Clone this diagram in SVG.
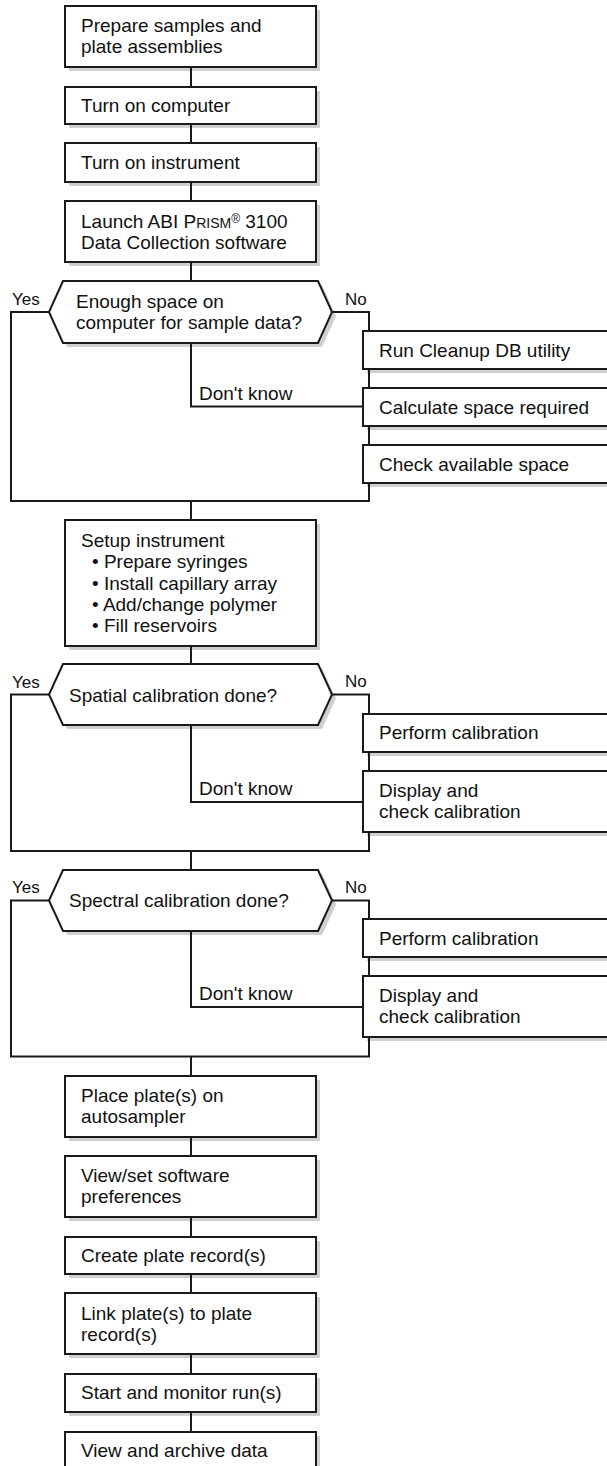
<svg xmlns="http://www.w3.org/2000/svg" width="607" height="1466" viewBox="0 0 607 1466">
<style>
.box{fill:#fff;stroke:#1a1a1a;stroke-width:2}
.sh{fill:#cfcfcf}
.ln{fill:none;stroke:#1a1a1a;stroke-width:2}
text{font-family:"Liberation Sans",Arial,Helvetica,sans-serif;font-size:19px;fill:#111}
.lbl{font-size:17px}
</style>
<rect width="607" height="1466" fill="#fff"/>
<g id="shadows">
<rect class="sh" x="69" y="10" width="251" height="61"/>
<rect class="sh" x="69" y="91" width="251" height="37"/>
<rect class="sh" x="69" y="147" width="251" height="39"/>
<rect class="sh" x="69" y="205" width="251" height="61"/>
<polygon class="sh" points="67,285 322,285 336,316 322,347 67,347 53,316"/>
<rect class="sh" x="367" y="335" width="260" height="38"/>
<rect class="sh" x="367" y="392" width="260" height="38"/>
<rect class="sh" x="367" y="449" width="260" height="38"/>
<rect class="sh" x="69" y="524" width="251" height="126"/>
<polygon class="sh" points="67,668 322,668 336,698.5 322,729 67,729 53,698.5"/>
<rect class="sh" x="367" y="718" width="260" height="38"/>
<rect class="sh" x="367" y="775" width="260" height="61"/>
<polygon class="sh" points="67,874 322,874 336,904.5 322,935 67,935 53,904.5"/>
<rect class="sh" x="367" y="923" width="260" height="38"/>
<rect class="sh" x="367" y="980" width="260" height="61"/>
<rect class="sh" x="69" y="1080" width="251" height="61"/>
<rect class="sh" x="69" y="1160" width="251" height="61"/>
<rect class="sh" x="69" y="1241" width="251" height="37"/>
<rect class="sh" x="69" y="1297" width="251" height="61"/>
<rect class="sh" x="69" y="1378" width="251" height="38"/>
<rect class="sh" x="69" y="1436" width="251" height="40"/>
</g>
<g id="connectors" class="ln">
<path d="M191 67V87M191 124V143M191 182V201M191 262V281"/>
<path d="M49 312H11V501H369V312H332M191 343V406.5H363M191 501V520"/>
<path d="M191 646V664M49 694.5H11V851H369V694.5H332M191 725V802H363M191 851V870"/>
<path d="M49 900.5H11V1056.5H369V900.5H332M191 931V1007H363M191 1056.5V1076"/>
<path d="M191 1137V1156M191 1217V1237M191 1274V1293M191 1354V1374M191 1412V1432"/>
</g>
<g id="labels">
<text class="lbl" x="12" y="305">Yes</text>
<text class="lbl" x="345" y="305">No</text>
<text x="199" y="400">Don't know</text>
<text class="lbl" x="12" y="688">Yes</text>
<text class="lbl" x="345" y="687">No</text>
<text x="199" y="795">Don't know</text>
<text class="lbl" x="12" y="893">Yes</text>
<text class="lbl" x="345" y="893">No</text>
<text x="199" y="1000">Don't know</text>
</g>
<g id="n1"><rect class="box" x="65" y="6" width="251" height="61"/><text x="81" y="32">Prepare samples and</text><text x="81" y="53">plate assemblies</text></g>
<g id="n2"><rect class="box" x="65" y="87" width="251" height="37"/><text x="81" y="112">Turn on computer</text></g>
<g id="n3"><rect class="box" x="65" y="143" width="251" height="39"/><text x="81" y="169">Turn on instrument</text></g>
<g id="n4"><rect class="box" x="65" y="201" width="251" height="61"/><text x="81" y="228">Launch ABI P<tspan font-size="14">RISM</tspan><tspan font-size="12" dy="-5">®</tspan><tspan dy="5"> 3100</tspan></text><text x="81" y="249">Data Collection software</text></g>
<g id="d1"><polygon class="box" points="63,281 318,281 332,312 318,343 63,343 49,312"/><text x="76" y="308">Enough space on</text><text x="76" y="329">computer for sample data?</text></g>
<g id="r1"><rect class="box" x="363" y="331" width="260" height="38"/><text x="379" y="357">Run Cleanup DB utility</text></g>
<g id="r2"><rect class="box" x="363" y="388" width="260" height="38"/><text x="379" y="414">Calculate space required</text></g>
<g id="r3"><rect class="box" x="363" y="445" width="260" height="38"/><text x="379" y="471">Check available space</text></g>
<g id="n5"><rect class="box" x="65" y="520" width="251" height="126"/><text x="81" y="547">Setup instrument</text><text x="92" y="568">• Prepare syringes</text><text x="92" y="590">• Install capillary array</text><text x="92" y="611">• Add/change polymer</text><text x="92" y="632">• Fill reservoirs</text></g>
<g id="d2"><polygon class="box" points="63,664 318,664 332,694.5 318,725 63,725 49,694.5"/><text x="69" y="702">Spatial calibration done?</text></g>
<g id="r4"><rect class="box" x="363" y="714" width="260" height="38"/><text x="379" y="739">Perform calibration</text></g>
<g id="r5"><rect class="box" x="363" y="771" width="260" height="61"/><text x="379" y="797">Display and</text><text x="379" y="818">check calibration</text></g>
<g id="d3"><polygon class="box" points="63,870 318,870 332,900.5 318,931 63,931 49,900.5"/><text x="69" y="907">Spectral calibration done?</text></g>
<g id="r6"><rect class="box" x="363" y="919" width="260" height="38"/><text x="379" y="945">Perform calibration</text></g>
<g id="r7"><rect class="box" x="363" y="976" width="260" height="61"/><text x="379" y="1002">Display and</text><text x="379" y="1023">check calibration</text></g>
<g id="n6"><rect class="box" x="65" y="1076" width="251" height="61"/><text x="81" y="1102">Place plate(s) on</text><text x="81" y="1123">autosampler</text></g>
<g id="n7"><rect class="box" x="65" y="1156" width="251" height="61"/><text x="81" y="1182">View/set software</text><text x="81" y="1203">preferences</text></g>
<g id="n8"><rect class="box" x="65" y="1237" width="251" height="37"/><text x="81" y="1262">Create plate record(s)</text></g>
<g id="n9"><rect class="box" x="65" y="1293" width="251" height="61"/><text x="81" y="1320">Link plate(s) to plate</text><text x="81" y="1341">record(s)</text></g>
<g id="n10"><rect class="box" x="65" y="1374" width="251" height="38"/><text x="81" y="1399">Start and monitor run(s)</text></g>
<g id="n11"><rect class="box" x="65" y="1432" width="251" height="40"/><text x="81" y="1457">View and archive data</text></g>
</svg>
